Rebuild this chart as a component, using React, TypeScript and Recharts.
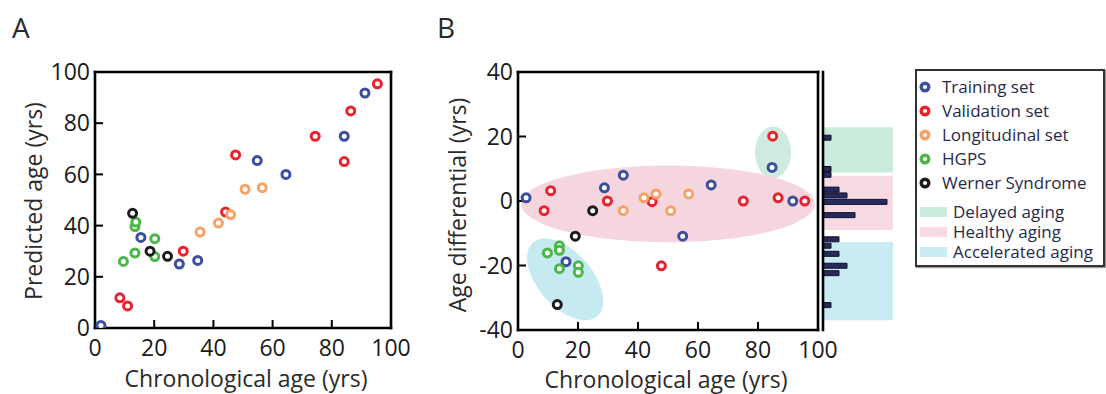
import { Bar, BarChart, ReferenceArea, Scatter, ScatterChart, XAxis, YAxis } from 'recharts';

const FONT = '"Open Sans", "DejaVu Sans", sans-serif';
const AGE_TICKS = [0, 20, 40, 60, 80, 100];
const PRED_TICKS = [0, 20, 40, 60, 80, 100];
const DIFF_TICKS = [-40, -20, 0, 20, 40];

// panel A: [chronological age, predicted age]
const TRAIN_A = [[2, 1], [15.5, 35.4], [28.5, 25], [34.7, 26.4], [54.8, 65.4], [64.5, 60], [84.2, 74.9], [91.2, 91.8]];
const VALID_A = [[8.4, 11.8], [11, 8.6], [29.8, 30], [44.1, 45.3], [47.5, 67.6], [74.4, 74.9], [84.2, 65], [86.4, 84.8], [95.4, 95.4]];
const LONG_A = [[35.5, 37.5], [41.7, 41], [45.8, 44.3], [50.7, 54.2], [56.5, 54.8]];
const HGPS_A = [[9.6, 26], [13.5, 29.3], [13.5, 39.6], [13.8, 41.4], [20.2, 34.9], [20.2, 27.9]];
const WERNER_A = [[12.7, 44.8], [18.6, 30], [24.5, 28]];

// panel B: [chronological age, age differential]
const TRAIN_B = [[2.7, 1], [16, -18.8], [28.8, 4.1], [35.1, 8], [54.9, -10.9], [64.4, 5], [84.7, 10.4], [91.6, 0]];
const VALID_B = [[8.7, -3], [10.9, 3.2], [29.8, 0], [44.7, -0.2], [47.8, -20.1], [75.1, 0], [84.9, 20.1], [86.7, 1], [95.6, 0]];
const LONG_B = [[35.1, -3], [42, 1], [46, 2.2], [50.9, -3], [56.9, 2.2]];
const HGPS_B = [[9.8, -16.1], [13.8, -13.9], [13.8, -15.3], [13.8, -21], [20.1, -20.1], [20.1, -22.1]];
const WERNER_B = [[13.1, -32.1], [19.1, -10.9], [24.9, -3]];

// side histogram of the age differential
const HIST_DIFF = [19.5, 9.8, 8, 3.4, 1.6, -0.4, -4.5, -12, -14, -16.5, -20.2, -22.5, -32.4];
const HIST_COUNT = [1, 1, 1, 2, 3, 8, 4, 2, 1, 2, 3, 2, 1];

const SERIES_NAMES = ['Training set', 'Validation set', 'Longitudinal set', 'HGPS', 'Werner Syndrome'];
const SERIES_COLORS = ['#3c4f9e', '#e8232c', '#f6a165', '#4cb649', '#1b1b1b'];
const SERIES_A = [TRAIN_A, VALID_A, LONG_A, HGPS_A, WERNER_A];
const SERIES_B = [TRAIN_B, VALID_B, LONG_B, HGPS_B, WERNER_B];

const BAND_NAMES = ['Delayed aging', 'Healthy aging', 'Accelerated aging'];
const BAND_COLORS = ['#c9ecdd', '#f7d9e2', '#c9ebf2'];
const BAND_FROM = [8.8, -9, -37];
const BAND_TO = [22.9, 7.8, -12.7];

// group outlines in panel B: centre, half axes (data units), tilt (deg)
const ELLIPSE_X = [85, 50, 15.7];
const ELLIPSE_Y = [15.1, -0.9, -24.3];
const ELLIPSE_RX = [6, 49, 16.3];
const ELLIPSE_RY = [8, 11.9, 8.4];
const ELLIPSE_TILT = [0, 0, 49];
const ELLIPSE_COLORS = ['#cfeadf', '#f5d6df', '#c5eaf0'];

const HIST_MAX = 8.75;

const FRAME = { stroke: '#000', strokeWidth: 2.6, strokeLinecap: 'square' as const };
const TICK_LINE = { stroke: '#000', strokeWidth: 2 };
const TICK_TEXT = { fontSize: 23, fill: '#1a1a1a' };

const toPoints = (rows: number[][]) => rows.map(([x, y]) => ({ x, y }));
const HIST = HIST_DIFF.map((diff, i) => ({ diff, count: HIST_COUNT[i] }));

const ring = (color: string) => (p: any) => (
  <circle cx={p.cx} cy={p.cy} r={4} fill="#fff" stroke={color} strokeWidth={3} />
);

const ellipseShape = (fill: string, tilt: number) => (p: any) => {
  const cx = p.x + p.width / 2;
  const cy = p.y + p.height / 2;
  return (
    <ellipse
      cx={cx}
      cy={cy}
      rx={Math.abs(p.width) / 2}
      ry={Math.abs(p.height) / 2}
      fill={fill}
      transform={`rotate(${tilt} ${cx} ${cy})`}
    />
  );
};

/** MATLAB-style boxed axes: labels bottom/left, inward ticks on all four sides. */
function frameAxes(yDomain: number[], yTicks: number[]) {
  return [
    <XAxis key="b" xAxisId="b" dataKey="x" type="number" domain={[0, 100]} ticks={AGE_TICKS} interval={0}
      height={1} tickSize={-8} tickMargin={20} axisLine={FRAME} tickLine={TICK_LINE} tick={TICK_TEXT} allowDataOverflow />,
    <XAxis key="t" xAxisId="t" orientation="top" dataKey="x" type="number" domain={[0, 100]} ticks={AGE_TICKS} interval={0}
      height={1} tickSize={-8} axisLine={FRAME} tickLine={TICK_LINE} tick={false} allowDataOverflow />,
    <YAxis key="l" yAxisId="l" dataKey="y" type="number" domain={yDomain} ticks={yTicks} interval={0}
      width={1} tickSize={-8} tickMargin={13} axisLine={FRAME} tickLine={TICK_LINE} tick={TICK_TEXT} allowDataOverflow />,
    <YAxis key="r" yAxisId="r" orientation="right" dataKey="y" type="number" domain={yDomain} ticks={yTicks} interval={0}
      width={1} tickSize={-8} axisLine={FRAME} tickLine={TICK_LINE} tick={false} allowDataOverflow />,
  ];
}

function Legend() {
  return (
    <div
      style={{
        position: 'absolute',
        left: 915,
        top: 69,
        width: 190,
        height: 198,
        boxSizing: 'border-box',
        border: '2px solid #333',
        boxShadow: '1px 1px 1px #999',
        background: '#fff',
        color: '#262a4a',
        fontSize: 17,
        lineHeight: '20px',
      }}
    >
      {SERIES_NAMES.map((name, i) => (
        <div key={name} style={{ position: 'absolute', left: 1, top: 5 + i * 24, height: 22, display: 'flex', alignItems: 'center', whiteSpace: 'nowrap' }}>
          <svg width={14} height={14} style={{ marginRight: 10 }}>
            <circle cx={7} cy={7} r={3.8} fill="#fff" stroke={SERIES_COLORS[i]} strokeWidth={3.4} />
          </svg>
          {name}
        </div>
      ))}
      {BAND_NAMES.map((name, i) => (
        <div key={name} style={{ position: 'absolute', left: 3, top: 131 + i * 20, height: 20, display: 'flex', alignItems: 'center', whiteSpace: 'nowrap' }}>
          <span style={{ width: 27, height: 10, background: BAND_COLORS[i], marginRight: 6 }} />
          {name}
        </div>
      ))}
    </div>
  );
}

export default function App() {
  return (
    <div style={{ position: 'absolute', left: 0, top: 0, width: 1106, height: 394, background: '#fff', fontFamily: FONT, overflow: 'hidden' }}>
      <svg width={1106} height={394} style={{ position: 'absolute', left: 0, top: 0 }}>
        <g fontFamily={FONT} fill="#2a2a2a">
          <text x={12} y={38} fontSize={28}>A</text>
          <text x={437} y={38} fontSize={28}>B</text>
          <text x={246} y={387} fontSize={23} textAnchor="middle">Chronological age (yrs)</text>
          <text x={666} y={388} fontSize={23} textAnchor="middle">Chronological age (yrs)</text>
          <text transform="translate(42 201) rotate(-90)" fontSize={23} textAnchor="middle">Predicted age (yrs)</text>
          <text transform="translate(466 205) rotate(-90)" fontSize={23} textAnchor="middle">Age differential (yrs)</text>
        </g>
      </svg>

      <div style={{ position: 'absolute', left: 800, top: 0 }}>
        <BarChart layout="vertical" width={100} height={394} data={HIST} margin={{ top: 72, right: 7, bottom: 64, left: 22 }}>
          <XAxis type="number" dataKey="count" domain={[0, HIST_MAX]} hide allowDataOverflow />
          <YAxis type="number" dataKey="diff" domain={[-40, 40]} reversed width={1} tick={false} tickLine={false} axisLine={FRAME} allowDataOverflow />
          {BAND_NAMES.map((name, i) => (
            <ReferenceArea key={name} x1={0} x2={HIST_MAX} y1={BAND_FROM[i]} y2={BAND_TO[i]}
              fill={BAND_COLORS[i]} fillOpacity={1} stroke="none" ifOverflow="visible" />
          ))}
          <Bar dataKey="count" barSize={5} fill="#262b5c" stroke="#10102a" strokeWidth={1} isAnimationActive={false} />
        </BarChart>
      </div>

      <div style={{ position: 'absolute', left: 0, top: 0 }}>
        <ScatterChart width={420} height={394} margin={{ top: 71, right: 28, bottom: 65, left: 94 }}>
          {frameAxes([0, 100], PRED_TICKS)}
          {SERIES_A.map((rows, i) => (
            <Scatter key={SERIES_NAMES[i]} name={SERIES_NAMES[i]} data={toPoints(rows)} xAxisId="b" yAxisId="l"
              shape={ring(SERIES_COLORS[i])} isAnimationActive={false} />
          ))}
        </ScatterChart>
      </div>

      <div style={{ position: 'absolute', left: 420, top: 0 }}>
        <ScatterChart width={440} height={394} margin={{ top: 71, right: 41, bottom: 63, left: 97 }}>
          {frameAxes([-40, 40], DIFF_TICKS)}
          {ELLIPSE_X.map((cx, i) => (
            <ReferenceArea key={`e${i}`} xAxisId="b" yAxisId="l" ifOverflow="visible"
              x1={cx - ELLIPSE_RX[i]} x2={cx + ELLIPSE_RX[i]}
              y1={ELLIPSE_Y[i] - ELLIPSE_RY[i]} y2={ELLIPSE_Y[i] + ELLIPSE_RY[i]}
              shape={ellipseShape(ELLIPSE_COLORS[i], ELLIPSE_TILT[i])} />
          ))}
          {SERIES_B.map((rows, i) => (
            <Scatter key={SERIES_NAMES[i]} name={SERIES_NAMES[i]} data={toPoints(rows)} xAxisId="b" yAxisId="l"
              shape={ring(SERIES_COLORS[i])} isAnimationActive={false} />
          ))}
        </ScatterChart>
      </div>

      <Legend />
    </div>
  );
}
